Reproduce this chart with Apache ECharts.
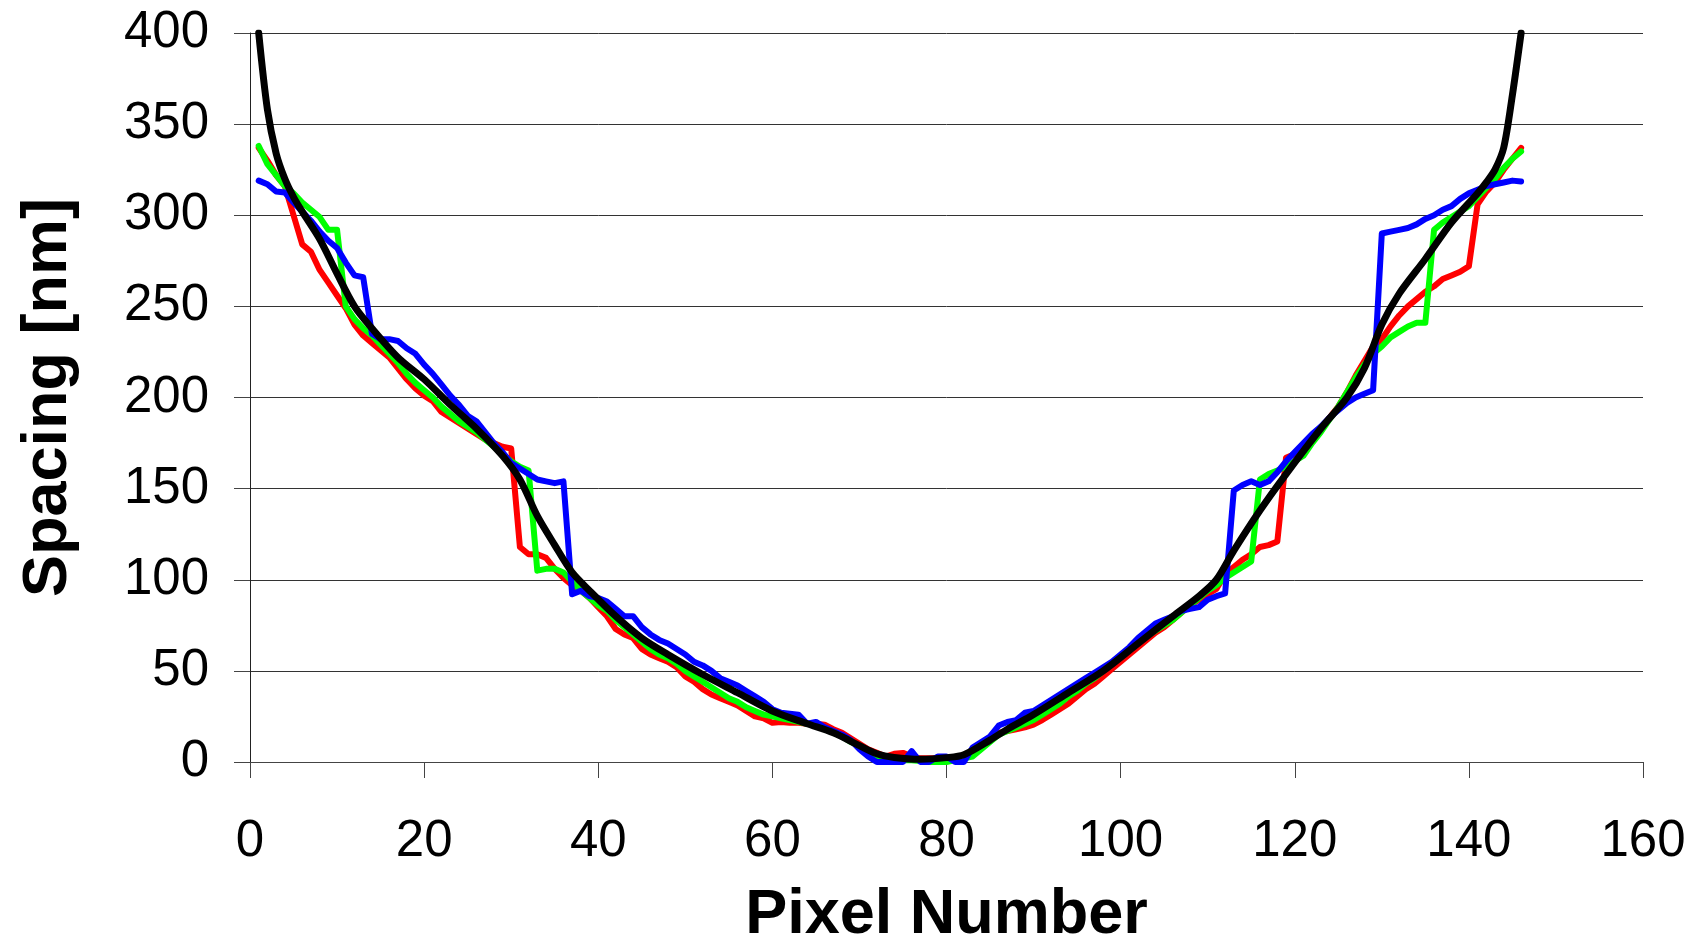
<!DOCTYPE html>
<html>
<head>
<meta charset="utf-8">
<title>Spacing vs Pixel Number</title>
<script src="https://cdn.jsdelivr.net/npm/echarts@6/dist/echarts.min.js"></script>
<style>
  html, body { margin: 0; padding: 0; background: #fff; }
  #chart { width: 1693px; height: 939px; }
</style>
</head>
<body>
<div id="chart"></div>
<script>
// pixel numbers and spacing values (nm)
const redPixel = [1,2,3,4,5,6,7,8,9,10,11,12,13,14,15,16,17,18,19,20,21,22,23,24,25,26,27,28,29,30,
  31,32,33,34,35,36,37,38,39,40,41,42,43,44,45,46,47,48,49,50,51,52,53,54,55,56,57,58,59,60,
  61,62,63,64,65,66,67,68,69,70,71,72,73,74,75,76,77,78,79,80,81,82,83,84,85,86,87,88,89,90,
  91,92,93,94,95,96,97,98,99,100,101,102,103,104,105,106,107,108,109,110,111,112,113,114,115,116,117,118,119,120,
  121,122,123,124,125,126,127,128,129,130,131,132,133,134,135,136,137,138,139,140,141,142,143,144,145,146]
const redSpacing = [337,330,322,316,300,284,280,270,263,256,249,240,234,230,226,222,216,210,205,201,198,192,189,186,183,180,177,175,173,172,
  118,114,114,112,106,101,97,94,90,85,80,73,70,68,62,59,57,55,52,47,44,40,37,35,33,31,28,25,24,21.5,
  22,21.5,21.5,21,21,20.5,18,16,13,10,7,5,3,4.5,5,3,2,2,2,2,2.5,3,5,9,13,16,17,18,19,20.5,
  23,26,29,32,36,40,43,47,51,55,59,63,67,71,74,78,82,86,89,92,95,103,107,111,114,118,119,121,167,169,
  172,177,183,189,195,203,212,220,228,232,239,245,250,254,258,261,265,267,269,272,306,313,318,325,331,337]

const greenPixel = redPixel
const greenSpacing = [338,328,322,316,312,307,303,299,292,292,250,243,238,234,229,224,219,213,208,204,200,195,191,187,184,181,177,173,169,165,
  162,160,105,106,106,104,99,94,90,86,83,78,74,70,66,62,59,57,54,50,47,44,41,38,35,33,30,28,26,25,
  24,23,22,21,20,18,16,14,11,9,6,3,2,1.5,1,1,0.5,0,0,0,1,2,3,7,11,15,17,19,21,23,
  26,29,32,36,39,43,46,50,54,58,62,66,69,72,75,78,82,86,90,94,97,101,104,107,110,155,158,160,162,165,
  168,175,181,188,195,203,211,218,224,228,233,236,239,241,241,292,296,299,302,305,310,315,320,326,331,335]

const bluePixel = redPixel
const blueSpacing = [319,317,313,312.5,307,302,297,291,286,282,274,267,266,235,232,232,231,227,224,218,213,207,201,196,190,187,181,175,170,164,
  161,158,155,154,153,154,92,94,91,90,88,84,80,80,74,70,67,65,62,59,55,53,50,46,44,42,39,36,33,29,
  27,26.5,26,21,22,19,17,15,12,7,3,0,0,0,0,6,0,0,3,3,0,0,8,11,14,20,22,23,27,28,
  31,34,37,40,43,46,49,52,55,59,63,68,72,76,78,80,83,84,85,89,91,92.5,149,152,154,152,154,159,165,170,
  175,180,184,189,193,197,200,202,204,290,291,292,293,295,298,300,303,305,309,312,314,316,317,318,319,318.5]

const fitPixel = [1,2,3,4,5,6,8,10,12,14,17,20,23,26,29,31,33,35,37,39,42,45,48,52,56,60,64,67,70,72,74,77,80,82,85,87,90,94,98,102,106,109,111,113,116,119,123,126,128,130,132,135,138,141,142,143,144,145,146]
const fitSpacing = [400,358,334,320,310,302,287,268,250,238,222,210,196,183,168,155,135,119,104,94,80,68,59,48,38,28,21,16,9,4.5,2.5,1.5,2.4,4,12,18,26,38,50,65,80,91,100,116,138,158,183,200,216,240,257,276,296,312,318,325,337,366,400]

const xTicks = { min: 0, max: 160, step: 20 }
const yTicks = { min: 0, max: 400, step: 50 }

const zip = (xs, ys) => xs.map((x, i) => [x, ys[i]])

const font = 'Liberation Sans, Arial, sans-serif'

const lineSeries = (name, xs, ys, color, width, smooth) => ({
  name: name,
  type: 'line',
  data: zip(xs, ys),
  showSymbol: false,
  smooth: smooth,
  lineStyle: { color: color, width: width, cap: 'round', join: 'round' },
  itemStyle: { color: color },
  z: 2
})

const chart = echarts.init(document.getElementById('chart'), null, { renderer: 'canvas' })

const option = {
  animation: false,
  backgroundColor: '#fff',
  grid: { left: 250, right: 50, top: 33, bottom: 177, containLabel: false, outerBoundsMode: 'none' },
  xAxis: {
    type: 'value',
    min: xTicks.min, max: xTicks.max, interval: xTicks.step,
    name: 'Pixel Number',
    nameLocation: 'middle',
    nameGap: 122,
    nameTextStyle: { fontFamily: font, fontWeight: 'bold', fontSize: 63, color: '#000' },
    axisLine: { show: true, lineStyle: { color: '#444', width: 1 } },
    axisTick: { show: true, length: 16, lineStyle: { color: '#444' } },
    axisLabel: { margin: 54, fontFamily: font, fontSize: 51, color: '#000' },
    splitLine: { show: false }
  },
  yAxis: {
    type: 'value',
    min: yTicks.min, max: yTicks.max, interval: yTicks.step,
    name: 'Spacing [nm]',
    nameLocation: 'middle',
    nameGap: 170,
    nameTextStyle: { fontFamily: font, fontWeight: 'bold', fontSize: 63, color: '#000' },
    axisLine: { show: true, lineStyle: { color: '#222', width: 1 } },
    axisTick: { show: true, length: 16, lineStyle: { color: '#444' } },
    axisLabel: { margin: 41, fontFamily: font, fontSize: 51, color: '#000' },
    splitLine: { show: true, lineStyle: { color: '#333', width: 1 } }
  },
  series: [
    lineSeries('red', redPixel, redSpacing, '#ff0000', 6, false),
    lineSeries('green', greenPixel, greenSpacing, '#00ff00', 6, false),
    lineSeries('blue', bluePixel, blueSpacing, '#0000ff', 6, false),
    lineSeries('fit', fitPixel, fitSpacing, '#000000', 7, 0.3)
  ]
}

chart.setOption(option)
</script>
</body>
</html>
